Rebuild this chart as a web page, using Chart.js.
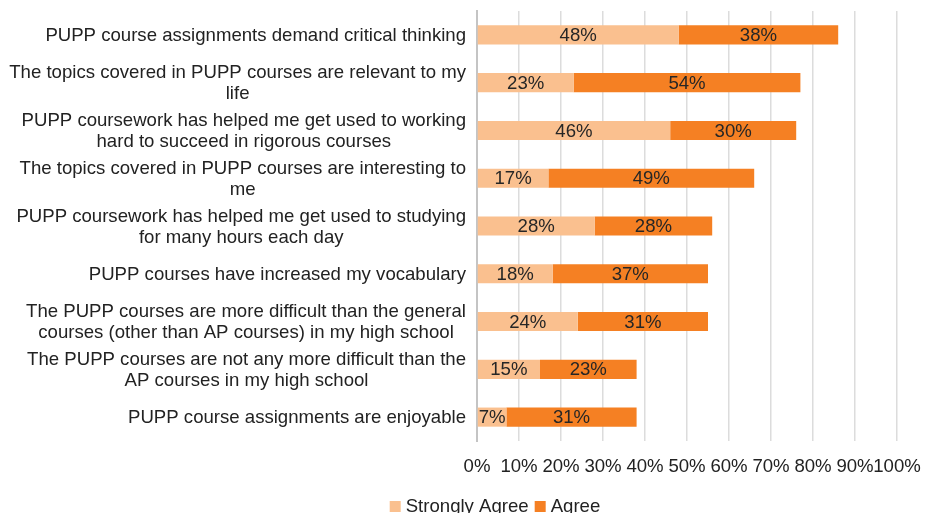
<!DOCTYPE html>
<html>
<head>
<meta charset="utf-8">
<script src="https://cdn.jsdelivr.net/npm/chart.js@4/dist/chart.umd.min.js"></script>
<style>
  html, body { margin: 0; padding: 0; background: #fff; overflow: hidden; }
  #wrap { width: 928px; height: 513px; position: relative; }
</style>
</head>
<body>
<div id="wrap"><canvas id="chart"></canvas></div>
<script>
const categories = [
    ["PUPP course assignments demand critical thinking"],
    ["The topics covered in PUPP courses are relevant to my", "life"],
    ["PUPP coursework has helped me get used to working", "hard to succeed in rigorous courses"],
    ["The topics covered in PUPP courses are interesting to", "me"],
    ["PUPP coursework has helped me get used to studying", "for many hours each day"],
    ["PUPP courses have increased my vocabulary"],
    ["The PUPP courses are more difficult than the general", "courses (other than AP courses) in my high school"],
    ["The PUPP courses are not any more difficult than the", "AP courses in my high school"],
    ["PUPP course assignments are enjoyable"]
];
const stronglyAgree = [48, 23, 46, 17, 28, 18, 24, 15, 7];
const agree = [38, 54, 30, 49, 28, 37, 31, 23, 31];
const xTicks = [0, 10, 20, 30, 40, 50, 60, 70, 80, 90, 100];

const FONT = '"Liberation Sans", Arial, Helvetica, sans-serif';
const TEXT = '#222222';
const SIZE = 18.6;

// category labels: block right aligned, lines centred inside the block
const categoryLabels = {
    id: 'categoryLabels',
    afterDraw(chart) {
        const c = chart.ctx;
        const y = chart.scales.y;
        const right = chart.chartArea.left - 11;
        const lh = 21;
        c.save();
        c.font = SIZE + 'px ' + FONT;
        c.fillStyle = TEXT;
        c.textAlign = 'center';
        c.textBaseline = 'middle';
        categories.forEach((lines, i) => {
            const w = Math.max(...lines.map(l => c.measureText(l).width));
            const cx = right - w / 2;
            const cy = y.getPixelForValue(i) - (lines.length - 1) * lh / 2 + 1;
            lines.forEach((l, k) => c.fillText(l, cx, cy + k * lh));
        });
        c.restore();
    }
};

// value labels centred in each bar segment
const valueLabels = {
    id: 'valueLabels',
    afterDatasetsDraw(chart) {
        const c = chart.ctx;
        c.save();
        c.font = SIZE + 'px ' + FONT;
        c.fillStyle = '#262626';
        c.textAlign = 'center';
        c.textBaseline = 'middle';
        chart.data.datasets.forEach((ds, di) => {
            chart.getDatasetMeta(di).data.forEach((bar, i) => {
                const mid = (bar.x + bar.base) / 2;
                c.fillText(ds.data[i] + '%', mid, bar.y + 1);
            });
        });
        c.restore();
    }
};

// tight legend at the bottom, partly clipped like the original
const bottomLegend = {
    id: 'bottomLegend',
    afterDraw(chart) {
        const c = chart.ctx;
        c.save();
        c.font = SIZE + 'px ' + FONT;
        c.textBaseline = 'alphabetic';
        c.textAlign = 'left';
        const items = chart.data.datasets.map(ds => ({ label: ds.label, color: ds.backgroundColor, w: c.measureText(ds.label).width }));
        const total = items.reduce((s, it) => s + 11 + 5 + it.w, 0) + 6 * (items.length - 1);
        let x = 495 - total / 2;
        items.forEach(it => {
            c.fillStyle = it.color;
            c.fillRect(x, 501, 11, 11);
            c.fillStyle = TEXT;
            c.fillText(it.label, x + 16, 512);
            x += 16 + it.w + 6;
        });
        c.restore();
    }
};

new Chart(document.getElementById('chart'), {
    type: 'bar',
    data: {
        labels: categories.map(l => l.join(' ')),
        datasets: [
            { label: 'Strongly Agree', data: stronglyAgree, backgroundColor: '#FAC08F' },
            { label: 'Agree', data: agree, backgroundColor: '#F58023' }
        ]
    },
    options: {
        indexAxis: 'y',
        responsive: true,
        maintainAspectRatio: false,
        animation: false,
        layout: { padding: { top: 11, right: 31, left: 0, bottom: 25 } },
        datasets: { bar: { barPercentage: 0.4, categoryPercentage: 1 } },
        scales: {
            x: {
                stacked: true,
                min: 0,
                max: 100,
                afterBuildTicks(scale) { scale.ticks = xTicks.map(v => ({ value: v })); },
                afterFit(scale) {
                    scale.height = 47;
                    scale.paddingLeft = 0;
                    scale.paddingRight = 0;
                },
                ticks: {
                    padding: 15,
                    maxRotation: 0,
                    minRotation: 0,
                    autoSkip: false,
                    color: TEXT,
                    font: { family: FONT, size: SIZE },
                    callback: v => v + '%'
                },
                grid: { color: '#dcdcdc', lineWidth: 1.5, drawTicks: false },
                border: { display: false }
            },
            y: {
                stacked: true,
                afterFit(scale) {
                    scale.width = 477;
                    scale.paddingTop = 0;
                    scale.paddingBottom = 0;
                },
                ticks: { display: false },
                grid: { display: false },
                border: { color: '#c4c4c4', width: 2 }
            }
        },
        plugins: {
            legend: { display: false },
            tooltip: { enabled: false }
        }
    },
    plugins: [categoryLabels, valueLabels, bottomLegend]
});
</script>
</body>
</html>
